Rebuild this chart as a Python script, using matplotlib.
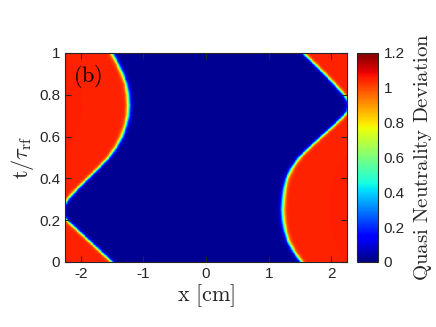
import numpy as np
import matplotlib.pyplot as plt

# sheath edge positions
t_left = [0.0, 0.05, 0.1, 0.15, 0.2, 0.22, 0.25, 0.27, 0.3, 0.35, 0.4, 0.45, 0.5,
          0.55, 0.6, 0.65, 0.7, 0.75, 0.8, 0.85, 0.9, 0.95, 1.0]
x_left = [-1.50, -1.68, -1.86, -2.04, -2.22, -2.28, -2.30, -2.27, -2.20, -2.05, -1.88, -1.71, -1.55,
          -1.43, -1.34, -1.28, -1.24, -1.23, -1.24, -1.27, -1.33, -1.41, -1.50]

t_right = [0.0, 0.05, 0.1, 0.15, 0.2, 0.25, 0.3, 0.35, 0.4, 0.45, 0.5, 0.55, 0.6,
           0.65, 0.7, 0.72, 0.75, 0.77, 0.8, 0.85, 0.9, 0.95, 1.0]
x_right = [1.52, 1.40, 1.31, 1.26, 1.23, 1.22, 1.23, 1.25, 1.29, 1.37, 1.49, 1.66, 1.84,
           2.03, 2.20, 2.26, 2.29, 2.27, 2.20, 2.05, 1.89, 1.72, 1.55]

qn_sheath = 1.05
qn_bulk = 0.02
edge_w = 0.04

x = np.linspace(-2.25, 2.25, 600)
t = np.linspace(0, 1, 500)
X, T = np.meshgrid(x, t)
xl = np.interp(T, t_left, x_left)
xr = np.interp(T, t_right, x_right)
Z = qn_bulk + (qn_sheath - qn_bulk) * (0.5 * (1 - np.tanh((X - xl) / edge_w))
                                       + 0.5 * (1 + np.tanh((X - xr) / edge_w)))

plt.rcParams['mathtext.fontset'] = 'cm'
fig = plt.figure(figsize=(4.36, 3.27), dpi=100)
ax = fig.add_axes([0.149, 0.199, 0.647, 0.639])
im = ax.pcolormesh(x, t, Z, cmap='jet', vmin=0, vmax=1.2, shading='auto', rasterized=True)
ax.set_xlim(-2.25, 2.25)
ax.set_ylim(0, 1)
ax.set_xticks([-2, -1, 0, 1, 2])
ax.set_xticklabels(['-2', '-1', '0', '1', '2'])
ax.set_yticks([0, 0.2, 0.4, 0.6, 0.8, 1])
ax.set_yticklabels(['0', '0.2', '0.4', '0.6', '0.8', '1'])
ax.tick_params(direction='in', top=True, right=True, length=4, color='#262626',
               labelsize=11, labelcolor='#262626')
for lab in ax.get_xticklabels() + ax.get_yticklabels():
    lab.set_family('Liberation Sans')
for s in ax.spines.values():
    s.set_color('#262626')
    s.set_linewidth(0.8)
ax.set_xlabel(r'$\mathrm{x\ [cm]}$', fontsize=16, color='#262626', labelpad=1)
ax.set_ylabel(r'$\mathrm{t}/\tau_{\mathrm{rf}}$', fontsize=16, color='#262626', labelpad=2)
ax.text(0.03, 0.95, r'$\mathrm{(b)}$', transform=ax.transAxes, fontsize=16, va='top', ha='left')

cax = fig.add_axes([0.819, 0.199, 0.048, 0.639])
cb = fig.colorbar(im, cax=cax)
cb.set_ticks([0, 0.2, 0.4, 0.6, 0.8, 1, 1.2])
cb.set_ticklabels(['0', '0.2', '0.4', '0.6', '0.8', '1', '1.2'])
cb.ax.tick_params(length=0, labelsize=11, labelcolor='#262626', pad=4)
for lab in cb.ax.get_yticklabels():
    lab.set_family('Liberation Sans')
cb.outline.set_edgecolor('#262626')
cb.outline.set_linewidth(0.8)
cb.set_label(r'$\mathrm{Quasi\ Neutrality\ Deviation}$', fontsize=15, color='#262626', labelpad=5)

fig.savefig('out.png', dpi=100)
